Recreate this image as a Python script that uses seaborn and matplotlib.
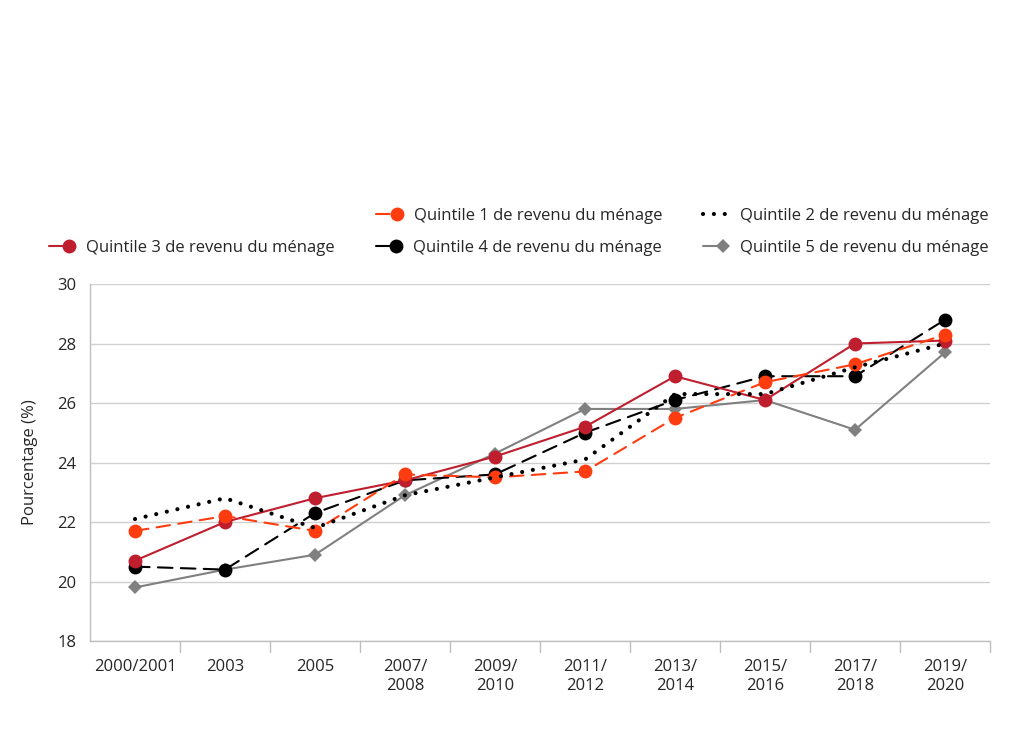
import matplotlib
matplotlib.use("Agg")
import matplotlib.pyplot as plt
from matplotlib.lines import Line2D
from matplotlib.legend_handler import HandlerBase
import seaborn as sns
import pandas as pd

categories = ["2000/2001", "2003", "2005", "2007/\n2008", "2009/\n2010", "2011/\n2012",
              "2013/\n2014", "2015/\n2016", "2017/\n2018", "2019/\n2020"]
q1 = [21.7, 22.2, 21.7, 23.6, 23.5, 23.7, 25.5, 26.7, 27.3, 28.3]
q2 = [22.1, 22.8, 21.8, 22.9, 23.5, 24.1, 26.3, 26.3, 27.2, 28.0]
q3 = [20.7, 22.0, 22.8, 23.4, 24.2, 25.2, 26.9, 26.1, 28.0, 28.1]
q4 = [20.5, 20.4, 22.3, 23.4, 23.6, 25.0, 26.1, 26.9, 26.9, 28.8]
q5 = [19.8, 20.4, 20.9, 22.9, 24.3, 25.8, 25.8, 26.1, 25.1, 27.7]
labels = ["Quintile 1 de revenu du ménage", "Quintile 2 de revenu du ménage",
          "Quintile 3 de revenu du ménage", "Quintile 4 de revenu du ménage",
          "Quintile 5 de revenu du ménage"]
yticks = [18, 20, 22, 24, 26, 28, 30]

sns.set_theme(style="white")
plt.rcParams['font.family'] = ['Open Sans', 'DejaVu Sans']
FS = 12

styles = {
    0: dict(color="#FF3C0F", ls=(0, (6.5, 4)), lw=1.5, marker="o", ms=10, zorder=4),
    1: dict(color="black", ls=(0, (0.01, 2.6)), lw=3, marker=None, ms=0, zorder=5),
    2: dict(color="#BE1E2D", ls="-", lw=1.5, marker="o", ms=10, zorder=3),
    3: dict(color="black", ls=(0, (7, 4)), lw=1.5, marker="o", ms=10, zorder=2),
    4: dict(color="#808080", ls="-", lw=1.5, marker="D", ms=7.5, zorder=1),
}


class RightMarkerHandler(HandlerBase):
    def __init__(self, st):
        super().__init__()
        self.st = st

    def create_artists(self, legend, orig, xdescent, ydescent, width, height, fontsize, trans):
        st = self.st
        y = height / 2 - ydescent
        x0, x1 = -xdescent, width - xdescent
        has_marker = st["marker"] is not None
        xe = x1 - 5 if has_marker else x1
        ln = Line2D([x0 + 4, xe], [y, y], color=st["color"], lw=st["lw"], linestyle=st["ls"],
                    dash_capstyle="round", transform=trans)
        arts = [ln]
        if has_marker:
            mk = Line2D([x1 - 5], [y], color=st["color"], marker=st["marker"],
                        markersize=st["ms"], markeredgewidth=0, linestyle="None",
                        transform=trans)
            arts.append(mk)
        return arts


fig = plt.figure(figsize=(10.12, 7.5), dpi=100)
ax = fig.add_axes([90/1012, 1-641/750, 900/1012, 357/750])

series = [q1, q2, q3, q4, q5]
handles = {}
for i in [4, 3, 2, 0, 1]:
    st = styles[i]
    df = pd.DataFrame({"x": categories, "y": series[i]})
    sns.lineplot(data=df, x="x", y="y", ax=ax, color=st["color"], linewidth=st["lw"],
                 marker=st["marker"], markersize=st["ms"], markeredgewidth=0,
                 zorder=st["zorder"], sort=False, label=labels[i])
    line = ax.lines[-1]
    line.set_linestyle(st["ls"])
    line.set_dash_capstyle("round")
    handles[i] = line
if ax.get_legend():
    ax.get_legend().remove()

ax.set_xlim(-0.5, 9.5)
ax.set_ylim(18, 30)
ax.set_yticks(yticks)
ax.set_yticklabels([str(t) for t in yticks], fontsize=FS)
ax.set_xticks(range(len(categories)))
ax.set_xticklabels(categories, fontsize=FS, linespacing=1.25)
ax.tick_params(axis="x", length=0, pad=13)
ax.tick_params(axis="y", length=0, pad=10)
for b in [i + 0.5 for i in range(len(categories))]:
    ax.plot([b, b], [0, -0.03], transform=ax.get_xaxis_transform(), color="#BFBFBF",
            lw=1, clip_on=False)
ax.grid(axis="y", color="#D0D0D0", lw=1)
ax.set_axisbelow(True)
for s in ["top", "right"]:
    ax.spines[s].set_visible(False)
for s in ["left", "bottom"]:
    ax.spines[s].set_color("#BFBFBF")
    ax.spines[s].set_linewidth(1)
ax.set_xlabel("")
ax.set_ylabel("Pourcentage (%)", fontsize=FS, labelpad=14)

hmap = {handles[i]: RightMarkerHandler(styles[i]) for i in handles}
common = dict(frameon=False, fontsize=FS, handlelength=2.0, columnspacing=2.1,
              handletextpad=0.6, handler_map=hmap, loc="center right")
leg1 = fig.legend([handles[0], handles[1]], [labels[0], labels[1]], ncol=2,
                  bbox_to_anchor=(1004/1012, 1-216/750), **common)
leg2 = fig.legend([handles[2], handles[3], handles[4]], [labels[2], labels[3], labels[4]],
                  ncol=3, bbox_to_anchor=(1004/1012, 1-248/750), **common)

fig.savefig("out.png", dpi=100)
